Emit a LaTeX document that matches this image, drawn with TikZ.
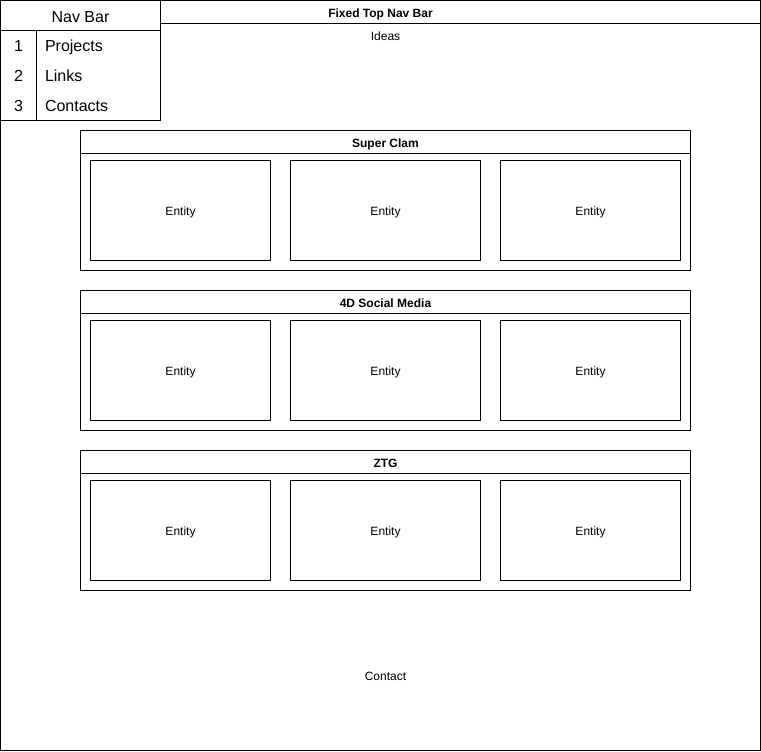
\documentclass[tikz,border=0pt]{standalone}
\usepackage{fontspec}
\setmainfont{Liberation Sans}
\tikzset{every picture/.style={line width=0.75pt}}
\tikzset{
  small/.style={inner sep=0.75pt, text height=0.72em, text depth=0pt, font=\fontsize{9}{11}\selectfont},
  title/.style={inner sep=0.75pt, text height=0.72em, text depth=0pt, font=\fontsize{9}{11}\selectfont\bfseries},
  big/.style={inner sep=0.75pt, text height=0.72em, text depth=0pt, font=\fontsize{12}{14}\selectfont},
  entitybox/.style={draw, fill=white, minimum width=135pt, minimum height=75pt, inner sep=0pt, text height=0.72em, text depth=0pt, font=\fontsize{9}{11}\selectfont},
}

\begin{document}
\begin{tikzpicture}[x=0.75pt,y=0.75pt,yscale=-1,xscale=1]
\useasboundingbox (-0.5,-0.5) rectangle (760.5,750.5);

%Shape: Rectangle [outer page]
\draw  [fill=white] (0,0) rectangle (760,750) ;
\draw    (0,23) -- (760,23) ;
% Text Node
\node [title] (pagetitle) at (380,12.5) {Fixed Top Nav Bar};
% Text Node
\node [small] (ideas) at (385,35.5) {Ideas};
% Text Node
\node [small] (contact) at (385,675.5) {Contact};

%Shape: Rectangle [nav bar]
\draw  [fill=white] (0,0) rectangle (160,120) ;
\draw    (0,30) -- (160,30) ;
\draw    (36,30) -- (36,120) ;
% Text Node
\node [big] (navtitle) at (80,17) {Nav Bar};
% Text Node
\node [big] (num1) at (18,46.5) {1};
\node [big, anchor=west] (item1) at (43,46.5) {Projects};
% Text Node
\node [big] (num2) at (18,76.5) {2};
\node [big, anchor=west] (item2) at (43,76.5) {Links};
% Text Node
\node [big] (num3) at (18,106.5) {3};
\node [big, anchor=west] (item3) at (43,106.5) {Contacts};

%Shape: Rectangle [Super Clam]
\draw   (80,130) rectangle (690,270) ;
\draw    (80,153) -- (690,153) ;
\node [title] (clamtitle) at (385,142.5) {Super Clam};
\node [entitybox] (clamA) at (180,210) {Entity};
\node [entitybox, minimum width=142.5pt] (clamB) at (385,210) {Entity};
\node [entitybox] (clamC) at (590,210) {Entity};

%Shape: Rectangle [4D Social Media]
\draw   (80,290) rectangle (690,430) ;
\draw    (80,313) -- (690,313) ;
\node [title] (socialtitle) at (385,302.5) {4D Social Media};
\node [entitybox] (socialA) at (180,370) {Entity};
\node [entitybox, minimum width=142.5pt] (socialB) at (385,370) {Entity};
\node [entitybox] (socialC) at (590,370) {Entity};

%Shape: Rectangle [ZTG]
\draw   (80,450) rectangle (690,590) ;
\draw    (80,473) -- (690,473) ;
\node [title] (ztgtitle) at (385,462.5) {ZTG};
\node [entitybox] (ztgA) at (180,530) {Entity};
\node [entitybox, minimum width=142.5pt] (ztgB) at (385,530) {Entity};
\node [entitybox] (ztgC) at (590,530) {Entity};

\end{tikzpicture}
\end{document}
